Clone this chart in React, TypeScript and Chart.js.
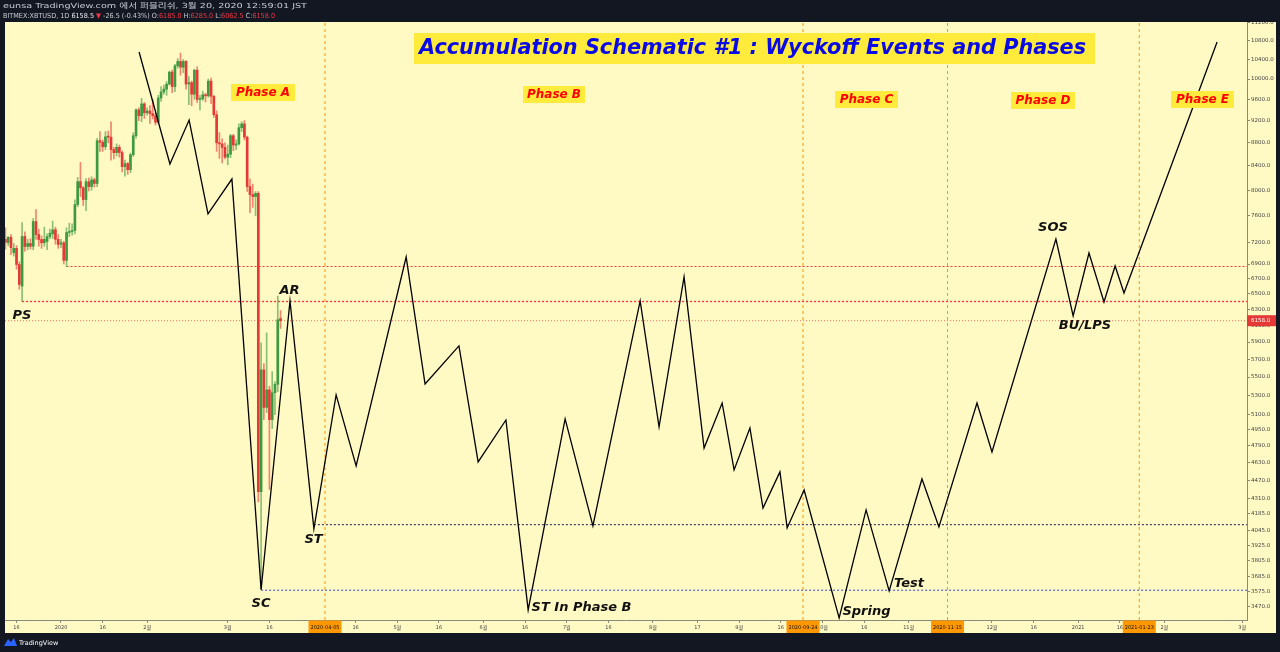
import React, { useEffect, useRef } from "react";
import { Chart, registerables } from "chart.js";
Chart.register(...registerables);

// ---------- DATA ----------
const candleDates = [
  "2019-12-12","2019-12-13","2019-12-14","2019-12-15","2019-12-16","2019-12-17","2019-12-18","2019-12-19","2019-12-20","2019-12-21",
  "2019-12-22","2019-12-23","2019-12-24","2019-12-25","2019-12-26","2019-12-27","2019-12-28","2019-12-29","2019-12-30","2019-12-31",
  "2020-01-01","2020-01-02","2020-01-03","2020-01-04","2020-01-05","2020-01-06","2020-01-07","2020-01-08","2020-01-09","2020-01-10",
  "2020-01-11","2020-01-12","2020-01-13","2020-01-14","2020-01-15","2020-01-16","2020-01-17","2020-01-18","2020-01-19","2020-01-20",
  "2020-01-21","2020-01-22","2020-01-23","2020-01-24","2020-01-25","2020-01-26","2020-01-27","2020-01-28","2020-01-29","2020-01-30",
  "2020-01-31","2020-02-01","2020-02-02","2020-02-03","2020-02-04","2020-02-05","2020-02-06","2020-02-07","2020-02-08","2020-02-09",
  "2020-02-10","2020-02-11","2020-02-12","2020-02-13","2020-02-14","2020-02-15","2020-02-16","2020-02-17","2020-02-18","2020-02-19",
  "2020-02-20","2020-02-21","2020-02-22","2020-02-23","2020-02-24","2020-02-25","2020-02-26","2020-02-27","2020-02-28","2020-02-29",
  "2020-03-01","2020-03-02","2020-03-03","2020-03-04","2020-03-05","2020-03-06","2020-03-07","2020-03-08","2020-03-09","2020-03-10",
  "2020-03-11","2020-03-12","2020-03-13","2020-03-14","2020-03-15","2020-03-16","2020-03-17","2020-03-18","2020-03-19","2020-03-20",
];
const opens = [
  7250,7205,7280,7060,7120,6893,6600,7292,7147,7190,7150,7514,7321,7248,7200,7220,7290,7330,7390,7250,
  7180,7200,6950,7351,7365,7380,7774,8140,8040,7852,8140,8060,8170,8110,8836,8810,8730,8907,8900,8680,
  8627,8720,8630,8388,8440,8338,8592,8925,9401,9290,9514,
  9345,9380,9330,9290,9170,9627,9744,9800,9900,10140,9850,10270,10360,10240,10360,9900,9930,9700,10180,
  9600,9610,9690,9670,9960,9660,9310,8800,8780,8720,
  8550,8600,8925,8760,8780,9070,9140,8900,8059,7931,7900,7950,4370,5580,5175,5360,5050,5330,5420,6185,
];
const highs = [
  7420,7290,7320,7190,7160,6930,7499,7360,7250,7260,7560,7696,7400,7300,7430,7330,7400,7520,7430,7320,
  7250,7220,7420,7490,7480,7850,8210,8460,8060,8190,8200,8220,8200,8880,9000,8850,9000,9010,9180,8720,
  8780,8760,8660,8500,8460,8620,8980,9420,9440,9620,9540,
  9440,9480,9600,9340,9680,9850,9880,9950,10160,10180,10300,10420,10535,10400,10380,10050,9960,10200,10250,
  9680,9760,9720,10000,10020,9680,9380,8980,8870,8800,
  8760,8950,8950,8850,9140,9180,9200,8920,8180,8100,7980,7980,5890,5650,6010,5400,5560,5450,6470,6285,
];
const lows = [
  7110,7160,7030,7010,6830,6560,6400,7080,7100,7110,7100,7250,7150,7120,7150,7100,7260,7260,7180,7120,
  7130,6900,6866,7290,7310,7330,7740,7900,7760,7680,7990,8000,8050,8060,8650,8650,8680,8800,8500,8520,
  8570,8550,8300,8230,8260,8290,8560,8880,9200,9180,9240,
  9300,9150,9230,9120,9150,9560,9700,9680,9880,9730,9750,10220,10080,10130,9800,9500,9480,9600,9540,
  9400,9580,9550,9640,9520,9260,8650,8530,8450,8520,
  8420,8540,8660,8680,8760,9000,8850,7980,7650,7730,7600,4280,3594,5050,5120,4390,4960,5100,5340,6062.5,
];
const closes = [
  7205,7280,7130,7120,6893,6623,7292,7147,7190,7150,7514,7321,7248,7200,7250,7290,7340,7390,7250,7176,
  7200,6950,7351,7365,7380,7774,8140,8040,7852,8140,8060,8170,8110,8836,8810,8730,8907,8900,8680,8627,
  8720,8630,8388,8440,8338,8592,8925,9401,9290,9514,9345,
  9380,9330,9290,9170,9627,9744,9800,9900,10140,9850,10270,10360,10240,10360,9900,9930,9700,10180,9600,
  9610,9690,9670,9960,9660,9310,8800,8780,8720,8550,
  8600,8925,8760,8780,9070,9140,8900,8059,7931,7900,7950,4370,5580,5175,5360,5050,5330,5420,6170,6158,
];

// Wyckoff schematic path: day offset from 2020-01-01 and price
const schematicDays = [
  28.1, 39.2, 46.1, 52.9, 61.5, 72.0, 82.4, 91.0, 99.0, 106.2, 124.2, 131.0, 143.2, 150.1, 160.1, 168.1,
  181.4, 191.4, 208.4, 215.2, 224.2, 231.4, 237.9, 242.2, 247.9, 252.6, 258.7, 261.3, 267.4, 280.0, 289.7,
  298.0, 309.8, 315.9, 329.6, 335.0, 358.0, 364.2, 369.9, 375.3, 379.3, 382.5, 416.0,
];
const schematicPrices = [
  10558, 8434, 9211, 7629, 8183, 3589, 6407, 4056, 5306, 4601, 6998, 5424, 5855, 4639, 5046, 3447,
  5057, 4080, 6407, 4976, 6723, 4770, 5221, 4565, 4966, 4229, 4547, 4063, 4385, 3392, 4213,
  3581, 4483, 4072, 5221, 4733, 7255, 6218, 7054, 6394, 6873, 6511, 10772,
];

// horizontal levels
const levelPrices = [6866, 6400, 4090, 3586];
const levelStartDays = [2, -14, 91, 72];
const lastPrice = 6158;

// vertical date markers
const markerDays = [95, 267, 319, 388];
const markerLabels = ["2020-04-05", "2020-09-24", "2020-11-15", "2021-01-23"];

// axis ticks
const xTickDays = [-16, 0, 15, 31, 60, 75, 91, 106, 121, 136, 152, 167, 182, 197, 213, 229, 244, 259, 274, 289, 305, 335, 350, 366, 381, 397, 425];
const xTickLabels = ["16", "2020", "16", "2월", "3월", "16", "4월", "16", "5월", "16", "6월", "16", "7월", "16", "8월", "17", "9월", "16", "10월", "16", "11월", "12월", "16", "2021", "16", "2월", "3월"];
const yTickValues = [11200, 10800, 10400, 10000, 9600, 9200, 8800, 8400, 8000, 7600, 7200, 6900, 6700, 6500, 6300, 6100, 5900, 5700, 5500, 5300, 5100, 4950, 4790, 4630, 4470, 4310, 4185, 4045, 3925, 3805, 3685, 3575, 3470];

const titleText = "Accumulation Schematic #1 : Wyckoff Events and Phases";
const phaseNames = ["Phase A", "Phase B", "Phase C", "Phase D", "Phase E"];
const eventNames = ["PS", "AR", "SC", "ST", "ST In Phase B", "Spring", "Test", "SOS", "BU/LPS"];
const headerLine1 = "eunsa TradingView.com 에서 퍼블리쉬, 3월 20, 2020 12:59:01 JST";

// ---------- helpers ----------
const BASE = Date.UTC(2020, 0, 1);
function dayOf(s: string) {
  const [y, m, d] = s.split("-").map(Number);
  return (Date.UTC(y, m - 1, d) - BASE) / 86400000;
}
const candleDays = candleDates.map(dayOf);

const X_MIN = -20.15, X_MAX = 426.76, Y_MIN = 3378, Y_MAX = 11213;
const FAM = "'DejaVu Sans', 'Noto Sans CJK KR', sans-serif";

const GREEN = "#3C9A40", RED = "#E53935";

// pixel layout of annotations (positions only)
const phaseBoxes = [
  { x: 231, y: 84, w: 64, h: 17 },
  { x: 523, y: 86, w: 62, h: 17 },
  { x: 835, y: 91, w: 63, h: 17 },
  { x: 1011, y: 92, w: 64, h: 17 },
  { x: 1171, y: 91, w: 63, h: 17 },
];
const eventPos = [
  [22, 316], [289.5, 291], [261, 604], [313.5, 540], [581.5, 608], [866.5, 612], [909, 584], [1053, 228], [1085, 326],
];

function drawScaled(ctx: CanvasRenderingContext2D, segs: { t: string; c: string }[], x: number, y: number, target: number) {
  let total = 0;
  const ws = segs.map((s) => { const w = ctx.measureText(s.t).width; total += w; return w; });
  const k = target / total;
  ctx.save();
  ctx.translate(x, y);
  ctx.scale(k, 1);
  let cx = 0;
  segs.forEach((s, i) => { ctx.fillStyle = s.c; ctx.fillText(s.t, cx, 0); cx += ws[i]; });
  ctx.restore();
}

const decorPlugin = {
  id: "decor",
  beforeDraw(chart: any) {
    const ctx = chart.ctx as CanvasRenderingContext2D;
    ctx.save();
    ctx.fillStyle = "#131722";
    ctx.fillRect(0, 0, chart.width, chart.height);
    ctx.fillStyle = "#FFF9C4";
    ctx.fillRect(5, 22, 1271, 611);
    ctx.restore();
  },
  afterDraw(chart: any) {
    const ctx = chart.ctx as CanvasRenderingContext2D;
    const xs = chart.scales.x, ys = chart.scales.y;
    ctx.save();
    ctx.textAlign = "center";
    ctx.textBaseline = "middle";

    // title
    ctx.fillStyle = "#FFEB3B";
    ctx.fillRect(414, 33, 681, 31);
    ctx.font = `italic bold 20.8px ${FAM}`;
    ctx.fillStyle = "#0A0AE6";
    ctx.fillText(titleText, 752.5, 49);

    // phases
    ctx.font = `italic bold 12px ${FAM}`;
    phaseNames.forEach((p, i) => {
      const b = phaseBoxes[i];
      ctx.fillStyle = "#FFEB3B";
      ctx.fillRect(b.x, b.y, b.w, b.h);
      ctx.fillStyle = "#FF0000";
      ctx.fillText(p, b.x + b.w / 2, b.y + b.h / 2 + 0.5);
    });

    // events
    ctx.font = `italic bold 13px ${FAM}`;
    ctx.fillStyle = "#111111";
    eventNames.forEach((e, i) => ctx.fillText(e, eventPos[i][0], eventPos[i][1]));

    // date marker boxes on x axis
    ctx.font = `5px ${FAM}`;
    markerDays.forEach((d, i) => {
      const px = xs.getPixelForValue(d);
      ctx.fillStyle = "#FF9800";
      ctx.fillRect(px - 16.5, 620.5, 33, 13);
      ctx.fillStyle = "#111111";
      ctx.fillText(markerLabels[i], px, 627.5);
    });

    // last price label
    const py = ys.getPixelForValue(lastPrice);
    ctx.fillStyle = RED;
    ctx.fillRect(1247, py - 5.5, 29, 11);
    ctx.fillStyle = "#FFFFFF";
    ctx.font = `5.5px ${FAM}`;
    ctx.textAlign = "left";
    ctx.fillText(lastPrice.toFixed(1), 1251, py);

    // header
    ctx.fillStyle = "#131722";
    ctx.fillRect(0, 0, chart.width, 22);
    ctx.fillRect(0, 633, chart.width, 19);
    ctx.textAlign = "left";
    ctx.font = `7px ${FAM}`;
    const grey = "#C9CCD3";
    drawScaled(ctx, [{ t: headerLine1, c: grey }], 3, 6.5, 304);
    const lastIdx = closes.length - 1;
    const chg = -26.5;
    drawScaled(ctx, [
      { t: "BITMEX:XBTUSD, 1D ", c: grey },
      { t: "6158.5 ", c: "#E9EAEE" },
      { t: "▼ ", c: "#F23645" },
      { t: `${chg} (-0.43%) `, c: grey },
      { t: "O:", c: grey }, { t: opens[lastIdx].toFixed(1) + " ", c: "#F23645" },
      { t: "H:", c: grey }, { t: highs[lastIdx].toFixed(1) + " ", c: "#F23645" },
      { t: "L:", c: grey }, { t: lows[lastIdx].toFixed(1) + " ", c: "#F23645" },
      { t: "C:", c: grey }, { t: closes[lastIdx].toFixed(1), c: "#F23645" },
    ], 3, 16.5, 272);

    // footer logo
    ctx.fillStyle = "#2962FF";
    ctx.beginPath();
    ctx.moveTo(4, 646);
    ctx.lineTo(8, 639);
    ctx.lineTo(11, 642);
    ctx.lineTo(14, 638);
    ctx.lineTo(17, 646);
    ctx.closePath();
    ctx.fill();
    ctx.fillStyle = "#FFFFFF";
    ctx.font = `6.5px ${FAM}`;
    ctx.fillText("TradingView", 19, 643);
    ctx.restore();
  },
};

export default function App() {
  const ref = useRef<HTMLCanvasElement>(null);
  useEffect(() => {
    document.body.style.margin = "0";
    document.body.style.background = "#131722";
    const bodyColors = closes.map((c, i) => (c >= opens[i] ? GREEN : RED));
    const wickColors = closes.map((c, i) => (c >= opens[i] ? "rgba(60,154,64,0.6)" : "rgba(229,57,53,0.6)"));

    const datasets: any[] = [
      {
        type: "line",
        data: schematicDays.map((d, i) => ({ x: d, y: schematicPrices[i] })),
        borderColor: "#000000",
        borderWidth: 1.3,
        pointRadius: 0,
        tension: 0,
        order: 0,
      },
      {
        type: "bar",
        data: candleDays.map((d, i) => ({ x: d, y: [opens[i], closes[i]] })),
        backgroundColor: bodyColors,
        barThickness: 2,
        minBarLength: 1,
        grouped: false,
        order: 1,
      },
      {
        type: "bar",
        data: candleDays.map((d, i) => ({ x: d, y: [lows[i], highs[i]] })),
        backgroundColor: wickColors,
        barThickness: 1,
        grouped: false,
        order: 2,
      },
    ];
    const levelColors = ["#F23645", "#F23645", "#1A1A5E", "#3347D6"];
    const levelWidths = [1, 1.4, 1, 1];
    levelPrices.forEach((p, i) => {
      datasets.push({
        type: "line",
        data: [{ x: levelStartDays[i], y: p }, { x: X_MAX, y: p }],
        borderColor: levelColors[i],
        borderWidth: levelWidths[i],
        borderDash: [2, 2],
        pointRadius: 0,
        order: 3,
      });
    });
    datasets.push({
      type: "line",
      data: [{ x: X_MIN, y: lastPrice }, { x: X_MAX, y: lastPrice }],
      borderColor: "rgba(242,54,69,0.7)",
      borderWidth: 1,
      borderDash: [1, 2],
      pointRadius: 0,
      order: 3,
    });
    markerDays.forEach((d) => {
      datasets.push({
        type: "line",
        data: [{ x: d, y: Y_MIN }, { x: d, y: Y_MAX }],
        borderColor: "#FF9800",
        borderWidth: 1,
        borderDash: [3, 3],
        pointRadius: 0,
        order: 4,
      });
    });

    const chart = new Chart(ref.current as HTMLCanvasElement, {
      type: "bar",
      data: { datasets },
      options: {
        responsive: false,
        animation: false,
        events: [],
        layout: { padding: { left: 5, top: 22, right: 4, bottom: 19 } },
        plugins: { legend: { display: false }, tooltip: { enabled: false } },
        scales: {
          x: {
            type: "linear",
            min: X_MIN,
            max: X_MAX,
            offset: false,
            afterBuildTicks: (s: any) => { s.ticks = xTickDays.map((v) => ({ value: v })); },
            afterFit: (s: any) => { s.height = 13; },
            ticks: {
              autoSkip: false,
              maxRotation: 0,
              minRotation: 0,
              padding: 2,
              color: "#444444",
              font: { size: 5, family: FAM },
              callback: (v: any) => xTickLabels[xTickDays.indexOf(Number(v))] ?? "",
            },
            grid: { drawOnChartArea: false, tickLength: 3, color: "#8a8a7a", offset: false },
            border: { color: "#8a8a7a" },
          },
          y: {
            type: "logarithmic",
            position: "right",
            min: Y_MIN,
            max: Y_MAX,
            afterBuildTicks: (s: any) => { s.ticks = yTickValues.map((v) => ({ value: v })); },
            afterFit: (s: any) => { s.width = 29; },
            ticks: {
              autoSkip: false,
              padding: 1,
              color: "#444444",
              font: { size: 5.5, family: FAM },
              callback: (v: any) => Number(v).toFixed(1),
            },
            grid: { drawOnChartArea: false, tickLength: 3, color: "#8a8a7a" },
            border: { color: "#8a8a7a" },
          },
        },
      } as any,
      plugins: [decorPlugin],
    });
    return () => chart.destroy();
  }, []);

  return (
    <div style={{ position: "fixed", left: 0, top: 0, width: 1280, height: 652, background: "#131722" }}>
      <canvas ref={ref} width={1280} height={652} style={{ display: "block", width: 1280, height: 652 }} />
    </div>
  );
}
